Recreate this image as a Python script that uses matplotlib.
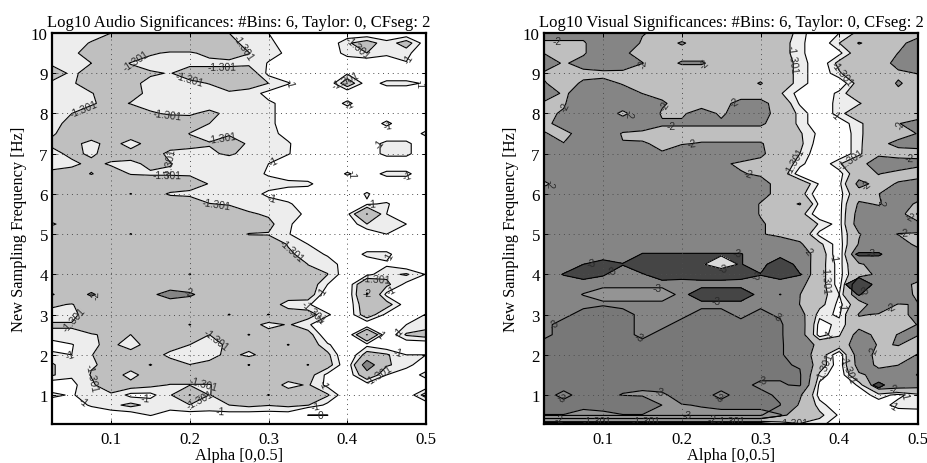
import numpy as np
import matplotlib
matplotlib.use("Agg")
import matplotlib.pyplot as plt

plt.rcParams['font.family'] = ['Liberation Serif', 'DejaVu Serif']
plt.rcParams['contour.negative_linestyle'] = 'solid'

alpha_values = [.025,.05,.075,.1,.125,.15,.175,.2,.225,.25,.275,.3,.325,.35,.375,.4,.425,.45,.475,.5]
freq_values = [10,9.75,9.5,9.25,9,8.75,8.5,8.25,8,7.75,7.5,7.25,7,6.75,6.5,6.25,6,5.75,5.5,5.25,5,4.75,4.5,4.25,4,3.75,3.5,3.25,3,2.75,2.5,2.25,2,1.75,1.5,1.25,1,.75,.5,.25]

audio_log10 = [
 [-1.15,-1.15,-1.2,-1.3,-1.5,-1.6,-1.6,-2.02,-1.5,-1.3,-1.15,-1.0,-.8,-.7,-.7,-.7,-.7,-.7,-.7,-.7],
 [-1.15,-1.2,-1.32,-1.6,-1.6,-1.7,-1.7,-1.7,-1.6,-1.4,-1.2,-1.05,-.9,-.7,-.7,-1.25,-1.5,-1.1,-1.5,-.8],
 [-1.1,-1.2,-1.5,-1.7,-1.6,-1.35,-1.25,-1.25,-1.4,-1.5,-1.31,-1.1,-.95,-.7,-.7,-1.15,-1.3,-1.1,-1.1,-.7],
 [-1.2,-1.2,-1.3,-1.5,-1.28,-1.15,-1.15,-1.2,-1.2,-1.2,-1.2,-.98,-.7,-.7,-.7,-.7,-.7,-.7,-.98,-.6],
 [-1.6,-1.2,-1.5,-1.6,-1.45,-1.35,-1.28,-1.5,-1.5,-1.5,-1.6,-.9,-.7,-.7,-.7,-.95,-.7,-.7,-.7,-.7],
 [-1.2,-1.25,-1.5,-1.6,-1.4,-1.2,-1.15,-1.2,-1.32,-1.5,-1.5,-1.3,-1.03,-.7,-.7,-1.6,-.8,-1.1,-1.1,-.95],
 [-1.15,-1.2,-1.28,-1.5,-1.45,-1.2,-1.1,-1.1,-1.1,-1.25,-1.15,-.9,-.7,-.7,-.7,-.7,-.7,-.7,-.7,-.7],
 [-1.1,-1.2,-1.25,-1.45,-1.28,-1.15,-1.1,-1.1,-1.1,-1.1,-1.1,-1.05,-.9,-.7,-.7,-1.1,-.7,-.7,-.7,-.7],
 [-1.2,-1.3,-1.5,-1.6,-1.6,-1.35,-1.25,-1.25,-1.4,-1.2,-1.1,-1.05,-.9,-.7,-.7,-.7,-.7,-.7,-.7,-.7],
 [-1.2,-1.4,-1.6,-1.6,-1.6,-1.6,-1.6,-1.5,-1.3,-1.15,-1.1,-1.05,-.9,-.7,-.7,-.7,-.7,-1.1,-.7,-.7],
 [-1.25,-1.5,-1.6,-1.6,-1.6,-1.6,-1.5,-1.29,-1.2,-1.25,-1.15,-1.1,-.9,-.7,-.7,-.7,-.7,-.7,-.7,-1.1],
 [-1.4,-1.45,-1.15,-1.5,-1.1,-1.5,-1.5,-1.4,-1.32,-1.5,-1.25,-1.1,-1.03,-.8,-.7,-.7,-.8,-1.1,-1.1,-.7],
 [-1.15,-1.42,-1.22,-1.5,-1.5,-1.5,-1.2,-1.2,-1.25,-1.35,-1.2,-1.1,-1.02,-.8,-.7,-.7,-.8,-1.1,-1.1,-.7],
 [-1.15,-1.2,-1.42,-1.25,-1.2,-1.4,-1.32,-1.15,-1.1,-1.1,-1.1,-1.0,-.8,-.7,-.7,-.7,-.7,-.7,-.7,-.7],
 [-1.4,-1.5,-1.28,-1.5,-1.28,-1.25,-1.25,-1.25,-1.15,-1.1,-1.1,-.97,-.8,-.7,-.7,-1.05,-.8,-1.1,-1.1,-.7],
 [-1.6,-1.6,-1.6,-1.6,-1.6,-1.6,-1.6,-1.5,-1.28,-1.15,-1.1,-1.1,-1.1,-1.1,-.7,-.7,-.7,-.7,-.7,-.7],
 [-1.6,-1.6,-1.6,-1.6,-2.02,-1.5,-1.25,-1.2,-1.15,-1.1,-1.1,-.95,-.8,-.7,-.7,-.7,-1.05,-.7,-.7,-.7],
 [-1.6,-1.6,-1.6,-1.6,-1.6,-1.6,-1.6,-1.6,-1.31,-1.28,-1.15,-1.1,-1.05,-.8,-.7,-.7,-.95,-1.05,-.7,-.7],
 [-1.6,-1.6,-1.6,-1.6,-1.6,-1.6,-1.6,-1.6,-1.6,-1.45,-1.35,-1.25,-1.1,-.95,-.7,-.9,-2.02,-1.0,-.7,-.7],
 [-1.25,-1.5,-1.6,-1.6,-1.6,-1.6,-1.6,-1.6,-1.6,-1.6,-1.6,-1.4,-1.05,-.8,-.7,-.7,-1.3,-1.15,-1.0,-.7],
 [-1.6,-1.6,-1.6,-1.6,-2.02,-1.6,-1.6,-1.6,-1.6,-1.5,-1.28,-1.28,-1.02,-.8,-.7,-.7,-.7,-1.0,-.7,-.7],
 [-1.6,-1.6,-1.6,-1.6,-1.6,-1.6,-1.6,-1.6,-1.6,-1.6,-1.6,-1.5,-1.28,-1.0,-.8,-.7,-.7,-.7,-.7,-.7],
 [-1.6,-1.6,-1.6,-1.6,-1.6,-1.6,-1.6,-1.6,-1.6,-1.6,-1.6,-1.6,-1.35,-1.2,-.95,-.7,-1.1,-1.1,-.7,-.7],
 [-1.6,-1.6,-1.6,-1.6,-1.6,-1.6,-1.6,-1.6,-1.6,-1.6,-1.6,-1.6,-1.5,-1.3,-1.2,-.8,-.7,-.95,-.7,-.7],
 [-1.6,-1.6,-1.6,-1.6,-1.6,-1.6,-1.6,-2.02,-1.6,-1.6,-1.6,-1.6,-1.6,-1.32,-1.31,-.75,-.9,-1.2,-1.35,-.98],
 [-1.6,-1.6,-1.6,-1.6,-1.6,-1.6,-1.6,-1.6,-1.6,-1.6,-1.6,-1.6,-1.6,-1.6,-1.0,-.7,-1.9,-1.4,-.9,-.7],
 [-2.05,-1.6,-2.1,-1.6,-1.6,-1.85,-2.3,-2.1,-1.7,-1.6,-1.6,-1.6,-1.6,-1.6,-.7,-.7,-2.02,-.9,-.7,-.7],
 [-1.35,-1.28,-1.5,-1.6,-1.6,-1.6,-1.6,-1.6,-1.6,-1.6,-1.6,-1.6,-1.1,-1.05,-.7,-.7,-1.7,-1.5,-.8,-.7],
 [-1.2,-1.2,-1.5,-1.6,-1.6,-1.6,-1.6,-1.6,-1.6,-2.02,-1.6,-2.02,-1.6,-1.5,-1.05,-.7,-1.6,-.9,-.7,-1.02],
 [-1.33,-1.33,-1.5,-1.6,-1.6,-1.6,-1.6,-2.02,-1.6,-1.6,-1.6,-1.1,-1.35,-1.05,-.7,-.7,-.7,-.7,-1.0,-1.1],
 [-1.25,-1.25,-1.28,-1.35,-1.3,-1.6,-1.6,-1.6,-1.3,-1.6,-2.02,-1.6,-1.6,-1.5,-.7,-.7,-2.02,-.7,-1.35,-1.5],
 [-.8,-.98,-1.2,-1.45,-1.02,-1.6,-1.6,-1.3,-1.1,-1.4,-1.6,-1.6,-2.02,-1.6,-1.05,-.7,-.9,-.7,-.7,-.7],
 [-1.1,-1.0,-1.28,-1.6,-1.6,-1.6,-1.15,-1.05,-1.05,-1.5,-1.15,-1.6,-1.6,-1.6,-1.4,-.6,-1.5,-1.35,-1.0,-1.0],
 [-1.35,-1.05,-1.28,-1.35,-1.6,-1.28,-1.6,-1.31,-1.5,-1.6,-2.02,-1.6,-1.6,-2.02,-1.5,-.7,-2.4,-1.35,-1.15,-.7],
 [-1.35,-1.05,-1.32,-1.6,-1.1,-1.6,-1.6,-1.6,-1.6,-1.6,-1.6,-1.6,-1.6,-1.5,-.9,-.7,-1.7,-1.0,-.7,-1.15],
 [-.7,-.9,-1.25,-1.5,-1.5,-1.4,-1.28,-1.28,-1.28,-1.5,-1.6,-1.6,-1.15,-1.35,-.9,-.7,-.8,-.7,-.7,-.7],
 [-1.1,-.95,-1.25,-1.25,-.9,-.9,-1.25,-2.02,-1.28,-1.6,-1.6,-2.02,-1.6,-1.6,-1.35,-.7,-.7,-.7,-.7,-1.5],
 [-.7,-.8,-1.05,-1.2,-1.4,-1.2,-1.2,-1.28,-1.2,-1.3,-1.4,-1.32,-1.4,-1.32,-.9,-.7,-.7,-.7,-.7,-.7],
 [-.6,-.6,-.7,-.8,-.8,-1.02,-.8,-.85,-.85,-.85,-.8,-.8,-.8,.01,.01,-.6,-.6,-.6,-.6,-.6],
 [-.5,-.5,-.5,-.5,-.5,-.5,-.5,-.5,-.5,-.5,-.5,-.5,-.5,-.5,-.5,-.5,-.5,-.5,-.5,-.5],
]

visual_log10 = [
 [-2.3,-2.3,-2.3,-2.6,-2.7,-2.05,-1.8,-1.7,-1.7,-1.7,-1.7,-1.7,-1.6,-1.15,-.7,-1.0,-1.4,-1.7,-1.7,-1.7],
 [-1.9,-1.9,-1.9,-2.6,-2.6,-1.9,-1.8,-2.05,-1.8,-1.7,-1.7,-1.7,-1.5,-1.1,-.7,-1.3,-2.05,-1.7,-1.8,-2.3],
 [-1.98,-1.8,-1.9,-2.6,-2.05,-1.9,-1.8,-1.8,-1.8,-1.7,-1.7,-1.7,-1.5,-1.1,-.7,-.9,-1.6,-1.7,-2.01,-2.4],
 [-2.5,-1.9,-2.3,-2.6,-2.5,-2.01,-1.8,-2.05,-2.05,-1.8,-1.7,-1.7,-1.5,-1.2,-.7,-1.45,-1.7,-1.7,-2.2,-2.5],
 [-1.9,-1.7,-1.8,-1.8,-1.8,-1.7,-1.7,-1.7,-1.7,-1.7,-1.7,-1.7,-1.5,-1.2,-.7,-1.25,-1.7,-1.7,-1.9,-2.02],
 [-2.05,-1.7,-2.1,-2.2,-1.95,-1.8,-1.7,-1.7,-1.7,-1.7,-1.7,-2.05,-1.5,-1.2,-.7,-.7,-1.5,-1.7,-2.05,-1.8],
 [-2.4,-1.9,-2.3,-2.8,-2.3,-1.99,-1.8,-1.7,-1.7,-1.7,-1.7,-1.7,-1.35,-.85,-.7,-1.1,-1.7,-1.7,-1.9,-1.8],
 [-1.9,-1.95,-2.4,-2.8,-2.8,-2.4,-2.1,-1.7,-1.7,-1.8,-2.2,-2.2,-1.7,-.95,-.7,-1.15,-1.25,-1.7,-1.7,-1.7],
 [-1.9,-2.05,-2.8,-2.8,-1.7,-2.8,-1.9,-1.9,-2.3,-1.9,-2.3,-2.3,-1.7,-1.2,-.7,-1.15,-1.7,-1.7,-1.7,-1.7],
 [-1.8,-2.3,-2.8,-2.8,-2.8,-2.8,-2.1,-2.1,-2.1,-2.1,-2.1,-2.1,-1.7,-1.2,-.7,-.8,-1.2,-1.7,-1.98,-2.2],
 [-2.05,-1.8,-2.3,-2.8,-1.9,-1.7,-1.7,-1.7,-1.7,-1.7,-1.7,-1.7,-1.7,-1.35,-.9,-.7,-1.2,-1.7,-1.7,-2.03],
 [-2.8,-2.02,-2.8,-2.8,-2.05,-2.1,-1.8,-1.95,-2.05,-2.05,-2.05,-2.05,-1.7,-1.4,-.8,-.7,-1.2,-1.8,-2.2,-2.1],
 [-2.8,-2.8,-2.8,-2.8,-2.8,-2.8,-2.07,-2.5,-2.8,-2.8,-2.4,-2.1,-1.7,-1.3,-.7,-.7,-1.2,-1.9,-1.7,-1.9],
 [-2.8,-2.8,-2.8,-2.8,-2.8,-2.8,-2.8,-2.8,-2.8,-2.1,-1.9,-1.85,-1.7,-1.1,-.7,-1.25,-1.8,-2.3,-2.4,-2.1],
 [-2.8,-2.8,-2.8,-2.8,-2.8,-2.8,-2.8,-2.8,-2.8,-2.8,-2.05,-1.9,-1.6,-.8,-.7,-.85,-1.7,-2.02,-1.8,-1.8],
 [-1.7,-2.8,-2.8,-2.8,-2.8,-2.8,-2.8,-2.8,-2.8,-2.8,-2.8,-2.3,-1.7,-1.7,-.95,-.9,-2.2,-1.8,-2.05,-2.2],
 [-2.8,-2.8,-2.8,-2.8,-2.8,-2.8,-2.8,-2.8,-2.8,-2.8,-2.8,-2.3,-1.7,-1.5,-.7,-.85,-1.7,-1.99,-2.3,-2.3],
 [-2.8,-2.8,-2.8,-2.8,-2.8,-2.8,-2.8,-2.8,-2.8,-2.8,-2.5,-1.95,-1.7,-2.05,-.9,-.85,-2.1,-1.95,-2.3,-1.9],
 [-2.8,-2.8,-2.8,-2.8,-2.8,-2.8,-2.8,-2.8,-2.8,-2.8,-2.5,-1.95,-1.7,-1.5,-.7,-.85,-2.3,-2.3,-2.4,-1.2],
 [-2.8,-2.8,-2.8,-2.8,-2.8,-2.8,-2.8,-2.8,-2.8,-2.8,-2.8,-2.1,-1.7,-1.8,-1.25,-.85,-2.4,-2.8,-2.8,-2.3],
 [-2.8,-2.8,-2.8,-2.8,-2.8,-2.8,-2.8,-2.8,-2.8,-2.8,-2.8,-2.1,-1.7,-1.7,-.9,-.85,-1.95,-2.5,-1.95,-1.95],
 [-2.8,-2.8,-2.8,-2.8,-2.8,-2.8,-2.8,-2.8,-2.8,-2.8,-2.8,-2.8,-2.8,-2.1,-1.4,-.8,-2.05,-2.5,-2.6,-1.7],
 [-2.8,-2.8,-2.8,-2.8,-2.8,-2.8,-2.8,-2.8,-2.8,-2.8,-2.8,-2.8,-2.8,-2.5,-1.6,-.7,-2.8,-2.8,-2.8,-2.6],
 [-2.8,-2.8,-2.8,-2.8,-2.8,-2.8,-2.8,-2.8,-2.8,-2.8,-2.8,-2.8,-2.8,-2.6,-1.5,-.85,-1.9,-2.3,-2.8,-2.8],
 [-2.8,-2.8,-2.8,-2.8,-2.8,-2.8,-2.8,-2.8,-2.8,-2.8,-2.8,-2.8,-2.8,-2.6,-1.5,-.85,-1.8,-2.1,-2.8,-2.8],
 [-2.8,-2.8,-2.8,-2.8,-2.8,-2.8,-2.8,-2.8,-2.8,-2.8,-2.8,-2.8,-2.8,-2.2,-1.5,-.85,-2.6,-2.6,-2.6,-1.7],
 [-2.8,-2.8,-2.8,-2.8,-2.8,-2.8,-2.8,-2.8,-2.8,-2.8,-2.8,-2.8,-2.8,-2.01,-1.5,-1.0,-2.6,-2.8,-2.8,-1.7],
 [-2.8,-2.8,-2.8,-2.84,-2.8,-2.8,-2.8,-2.8,-2.8,-2.8,-2.8,-2.8,-2.5,-1.99,-1.45,-.9,-1.6,-2.5,-1.95,-2.05],
 [-2.8,-2.8,-2.92,-2.92,-2.92,-2.8,-2.8,-2.8,-2.92,-2.92,-2.8,-2.92,-2.8,-2.3,-1.1,-.95,-2.05,-1.95,-1.95,-2.05],
 [-2.8,-2.92,-2.92,-2.92,-2.92,-2.8,-2.8,-2.92,-2.92,-2.92,-2.92,-2.92,-2.92,-2.4,-.85,-1.1,-1.75,-1.75,-1.75,-2.02],
 [-2.8,-2.92,-2.92,-2.92,-2.92,-2.8,-2.92,-2.92,-2.92,-2.92,-2.92,-2.92,-2.92,-2.4,-.8,-1.25,-2.3,-1.8,-2.02,-2.02],
 [-2.92,-2.92,-2.92,-2.92,-2.92,-2.92,-2.92,-2.92,-2.92,-2.92,-2.92,-2.92,-2.92,-2.5,-1.8,-1.6,-2.4,-1.95,-2.02,-1.8],
 [-2.92,-2.92,-2.92,-2.92,-2.92,-2.92,-2.92,-2.92,-2.92,-2.92,-2.92,-2.92,-2.92,-2.5,-1.6,-.7,-2.4,-1.8,-1.8,-2.02],
 [-2.92,-2.92,-2.92,-2.92,-2.92,-2.92,-2.92,-2.92,-2.92,-2.92,-2.92,-2.92,-2.92,-2.8,-1.6,-.75,-2.3,-1.9,-1.99,-2.6],
 [-2.92,-2.92,-2.92,-2.92,-2.92,-2.92,-2.92,-2.92,-2.92,-2.92,-2.92,-2.92,-2.92,-2.92,-1.2,-.7,-1.9,-2.2,-2.3,-2.9],
 [-2.92,-2.92,-2.92,-2.92,-2.92,-2.92,-2.92,-2.92,-2.92,-2.92,-2.92,-2.8,-2.8,-2.92,-.9,-.7,-1.05,-2.6,-2.5,-2.3],
 [-2.92,-2.8,-2.92,-2.92,-2.92,-2.92,-2.92,-2.92,-2.92,-2.8,-2.92,-2.92,-2.8,-2.1,-.85,-.7,-.8,-1.15,-.9,-1.2],
 [-2.92,-2.92,-2.92,-2.92,-2.92,-2.92,-2.92,-2.92,-2.92,-2.92,-2.92,-2.92,-2.86,-1.9,-1.15,-.7,-.7,-.8,-1.15,-1.2],
 [-2.92,-2.92,-2.92,-2.92,-2.92,-2.92,-2.92,-2.92,-2.92,-2.92,-2.92,-2.92,-2.1,-1.8,-1.4,-.95,-.7,-.7,-.7,-.7],
 [-.3,-.3,-.3,-.3,-.3,-.3,-.3,-.3,-.3,-.3,-.3,-.3,-.9,-1.2,-1.1,-.7,-.6,-.6,-.6,-.6],
]

# sub-bands of the significance scale that sit apart from the main ordering
visual_dark_band = {
 4.5:  [0,0,0,0,0,.55,.55,.55,.55,.55,.55,0,0,0,0,0,.6,.6,0,0],
 4.25: [0,0,.5,.9,.55,1.5,1.5,1.5,1.0,1.0,.55,0,1.5,0,0,0,0,0,0,0],
 4.0:  [0,.55,1.0,.6,0,.4,1.2,1.0,1.2,1.2,1.0,.55,1.0,.55,0,0,0,0,0,0],
 3.75: [0,0,0,0,0,0,0,0,0,0,0,0,0,0,0,0,1.5,0,0,0],
 3.5:  [0,0,0,0,0,0,0,0,1.5,1.5,1.5,0,.52,0,0,0,.55,0,0,0],
 1.25: [0,0,0,0,0,0,0,0,0,0,0,0,0,0,0,0,0,.7,0,0],
}
visual_pale_band = {
 3.5:  [0,0,.55,1.5,1.5,1.5,1.5,0,0,0,0,0,0,0,0,0,0,0,0,0],
 1.0:  [0,0,0,0,.6,.9,.7,0,0,0,0,0,0,0,0,0,0,0,0,0],
 .75:  [-3,-3,.31,.125,-3,-3,.55,.55,.44,.31,.31,.31,0,0,0,0,0,0,0,0],
 .5:   [.75,.75,.75,.75,.75,.75,.75,.75,.75,.75,.75,.75,.55,0,0,0,0,0,0,0],
}
visual_light_band = {
 4.25: [0,0,0,0,0,0,0,0,0,3,0,0,0,0,0,0,0,0,0,0],
 4.0:  [0,0,0,0,0,0,0,0,0,-3,0,0,0,0,0,0,0,0,0,0],
}

fill_levels = [-9, -2.85, -2, -1.301, -1, 9]
fill_grays = ['0.47', '0.52', '0.75', '0.93', 'white']
audio_lines = [-2, -1.301, -1, 0]
visual_lines = [-2.85, -2, -1.301, -1]
label_text = {-2.85: '-3', -2: '-2', -1.301: '-1.301', -1: '-1', 0: '0', 0.5: '-3'}

titles = ['Log10 Audio Significances: #Bins: 6, Taylor: 0, CFseg: 2',
          'Log10 Visual Significances: #Bins: 6, Taylor: 0, CFseg: 2']

W, H = 927, 464
X, Y = np.meshgrid(alpha_values, np.array(freq_values)[::-1])


def crop(points, ox, oy):
    return [(ox + x / 3, oy + y / 3) for x, y in points]


fig = plt.figure(figsize=(W / 100, H / 100), dpi=100)
rects = [[52 / W, (H - 425) / H, 374 / W, 391 / H], [544 / W, (H - 425) / H, 374 / W, 391 / H]]


def to_data(ax, pix):
    return [tuple(ax.transData.inverted().transform((x, H - y))) for x, y in pix]


def lines_and_labels(ax, z, levels, pix, zorder=2):
    cs = ax.contour(X, Y, z, levels=levels, colors='k', linewidths=0.8, zorder=zorder)
    if pix:
        texts = ax.clabel(cs, fmt=label_text, manual=to_data(ax, pix), inline=False,
                          fontsize=7.4, colors='#2a2a2a')
        for t in texts:
            t.set_family('Liberation Sans')
            t.set_zorder(4)


def band(ax, rows, color, pix=None, zorder=1.6):
    z = np.zeros((len(freq_values), len(alpha_values)))
    for f, vals in rows.items():
        z[freq_values.index(f)] = vals
    z = z[::-1]
    ax.contourf(X, Y, z, levels=[0.5, 99], colors=[color], zorder=zorder)
    lines_and_labels(ax, z, [0.5], pix, zorder=zorder + 0.1)


def dress(ax, title):
    ax.set_xlim(.025, .5)
    ax.set_ylim(.28, 10)
    ax.set_xticks([.1, .2, .3, .4, .5])
    ax.set_xticklabels(['0.1', '0.2', '0.3', '0.4', '0.5'])
    ax.set_yticks(range(1, 11))
    ax.tick_params(direction='in', top=True, right=True, length=3, width=0.7,
                   labelsize=12.2, pad=5)
    ax.tick_params(axis='y', pad=3)
    ax.grid(True, linestyle=(0, (1, 4)), color='0.3', linewidth=0.7)
    ax.set_axisbelow(False)
    for s in ax.spines.values():
        s.set_linewidth(1.6)
        s.set_zorder(5)
    ax.set_title(title, fontsize=12, pad=5)
    ax.set_xlabel('Alpha [0,0.5]', fontsize=11.8, labelpad=0)
    ax.set_ylabel('New Sampling Frequency [Hz]', fontsize=11.8, labelpad=3)


ax1 = fig.add_axes(rects[0])
dress(ax1, titles[0])
za = np.array(audio_log10)[::-1]
ax1.contourf(X, Y, za, levels=fill_levels, colors=fill_grays, zorder=1)
audio_pts = crop([(735,140),(405,180),(665,205),(565,245),(250,325),(500,352),(670,428),(510,490),(500,533),
                  (650,618),(1065,155),(870,250),(1050,320),(1220,175),(1260,250),(1130,430),(1075,525),
                  (1225,540),(820,485),(815,600),(1115,615),(1040,250),(1160,375)], 0, 0) + \
    crop([(880,60),(210,260),(935,255),(635,350),(285,440),(610,475),(600,515),(1130,145),(1130,430),
          (1170,85),(1100,180),(1170,180),(1190,300),(1190,385),(1140,315),(970,190),(960,270),(250,515),
          (435,515),(205,410),(660,540),(960,465),(945,530),(960,557),(290,195),(565,190)], 0, 230)
lines_and_labels(ax1, za, audio_lines, audio_pts)

ax2 = fig.add_axes(rects[1])
dress(ax2, titles[1])
zv = np.array(visual_log10)[::-1]
ax2.contourf(X, Y, zv, levels=fill_levels, colors=fill_grays, zorder=1)
visual_pts = crop([(280,118),(540,190),(720,195),(310,325),(510,343),(600,318),(808,305),(620,380),(683,438),
                   (850,527),(275,553),(1288,370),(1335,487),(1210,562),(1270,603),(1335,650),(1320,706),
                   (985,180),(1165,490),(1130,225),(1000,490),(1115,345)], 464, 0) + \
    crop([(1025,72),(1215,358),(1295,258),(1290,453),(745,568),(285,570),(1075,405),(1090,150),(1155,420),
          (545,578),(990,568),(1100,85),(1095,317),(1145,230),(1285,533),(1325,500),(800,578),(400,578),
          (935,270),(525,325),(270,280),(895,458),(668,532),(290,507),(765,505)], 464, 230)
lines_and_labels(ax2, zv, visual_lines, visual_pts)
band(ax2, visual_pale_band, '0.58',
     crop([(578,178),(587,487)], 464, 230), zorder=1.6)
band(ax2, visual_dark_band, '0.27',
     crop([(380,97),(445,125),(755,208),(820,77),(875,137),(1220,75),(1195,178)], 464, 230), zorder=1.8)
band(ax2, visual_light_band, '0.85', crop([(775,117)], 464, 230), zorder=2.0)

fig.savefig('out.png', dpi=100)
